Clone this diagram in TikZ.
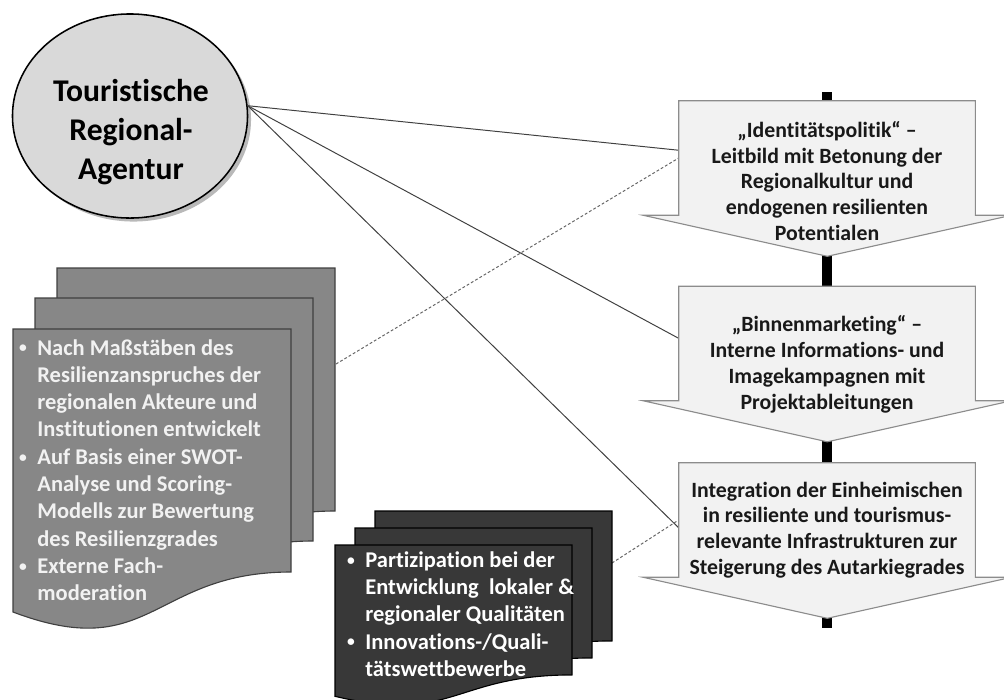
\documentclass[tikz,border=0pt]{standalone}
\usepackage{fontspec}
\setmainfont[Ligatures={NoCommon,NoRequired,NoContextual},Contextuals=NoAlternate]{Carlito}
\usetikzlibrary{shapes.geometric,shadows}

\newcommand{\dokument}[5]{%
\filldraw[#5] (#1,#2) -- (#1+#3,#2) -- (#1+#3,#2+0.802*#4)
  .. controls (#1+0.5*#3,#2+0.802*#4) and (#1+0.5*#3,#2+1.1075*#4) .. (#1,#2+0.934*#4) -- cycle;}
\newcommand{\pfeilform}[1]{%
\draw[pfeil] (#1.north west) -- (#1.north east) -- (#1.south east) -- ++(36,0) -- ++(-184,41) -- ++(-184,-41) -- (#1.south west) -- cycle;}
\newcommand{\punkt}{\makebox[15pt][l]{\hspace{2pt}\raisebox{1.5pt}{\fontsize{11}{11}\selectfont\textbullet}}}

\begin{document}
\begin{tikzpicture}[x=0.025cm,y=-0.025cm,
  agentur/.style={draw,ellipse,line width=1.1pt,fill=black!15,minimum width=5.875cm,minimum height=5.1cm,
    drop shadow={shadow xshift=2.5pt,shadow yshift=-2.5pt,fill=black!55}},
  pfeil/.style={draw=black!45,fill=black!5,line width=0.8pt},
  rumpf/.style={inner sep=0pt,minimum width=7.4cm,minimum height=2.85cm},
  pfeiltext/.style={align=center,text=black!90,font=\fontsize{15.5}{18.4}\selectfont\bfseries},
  grauDok/.style={draw=black!75,fill=black!47,line width=0.8pt},
  dunkelDok/.style={draw=black,fill=black!78,line width=0.8pt},
  doktext/.style={align=left,inner sep=0pt,anchor=west,font=\fontsize{16}{19.4}\selectfont\bfseries},
  link/.style={draw=black!75,line width=0.7pt},
  hilfslink/.style={draw=black!60,line width=0.7pt,dash pattern=on 2pt off 1.5pt}]
\useasboundingbox (0,0) rectangle (1004,699);
\clip (0,0) rectangle (1004,699);

\draw[line width=7pt] (827,92) -- (827,628);

\node(TRA)[agentur] at (130,116) {};
\node(TRAtext)[align=center,font=\fontsize{22.5}{27.7}\selectfont\bfseries] at (131,132) {Touristische\\Regional-\\Agentur};

\node(A1)[rumpf] at (827,158) {};
\node(A2)[rumpf] at (827,343.5) {};
\node(A3)[rumpf] at (827,520) {};
\coordinate(L) at (336,364);
\coordinate(D) at (612,563);

\draw[link] (TRA.5) -- (A1.177);
\draw[link] (TRA.5) -- (A2.178);
\draw[link] (TRA.5) -- (A3.183);
\draw[hilfslink] (L) -- (A1.west);
\draw[hilfslink] (D) -- (A3.west);

\dokument{57}{268}{278}{303}{grauDok}
\dokument{35}{298}{278}{303}{grauDok}
\dokument{13}{329}{278}{303}{grauDok}
\node(LText)[doktext,text=black!5] at (16,470) {\punkt Nach Maßstäben des\\
\hspace*{15pt}Resilienzanspruches der\\
\hspace*{15pt}regionalen Akteure und\\
\hspace*{15pt}Institutionen entwickelt\\
\punkt Auf Basis einer SWOT-\\
\hspace*{15pt}Analyse und Scoring-\\
\hspace*{15pt}Modells zur Bewertung\\
\hspace*{15pt}des Resilienzgrades\\
\punkt Externe Fach-\\
\hspace*{15pt}moderation};

\dokument{375}{511}{237}{162}{dunkelDok}
\dokument{355}{528}{237}{162}{dunkelDok}
\dokument{335}{545}{237}{162}{dunkelDok}
\node(DText)[doktext,text=white] at (344,614) {\punkt Partizipation bei der\\
\hspace*{15pt}Entwicklung\ \ lokaler \&\\
\hspace*{15pt}regionaler Qualitäten\\
\punkt Innovations-/Quali-\\
\hspace*{15pt}tätswettbewerbe};

\pfeilform{A1}
\pfeilform{A2}
\pfeilform{A3}
\node(T1)[pfeiltext] at (827,181) {„Identitätspolitik“ –\\Leitbild mit Betonung der\\Regionalkultur und\\endogenen resilienten\\Potentialen};
\node(T2)[pfeiltext] at (827,364) {„Binnenmarketing“ –\\Interne Informations- und\\Imagekampagnen mit\\Projektableitungen};
\node(T3)[pfeiltext] at (827,530) {Integration der Einheimischen\\in resiliente und tourismus-\\relevante Infrastrukturen zur\\Steigerung des Autarkiegrades};

\end{tikzpicture}
\end{document}
